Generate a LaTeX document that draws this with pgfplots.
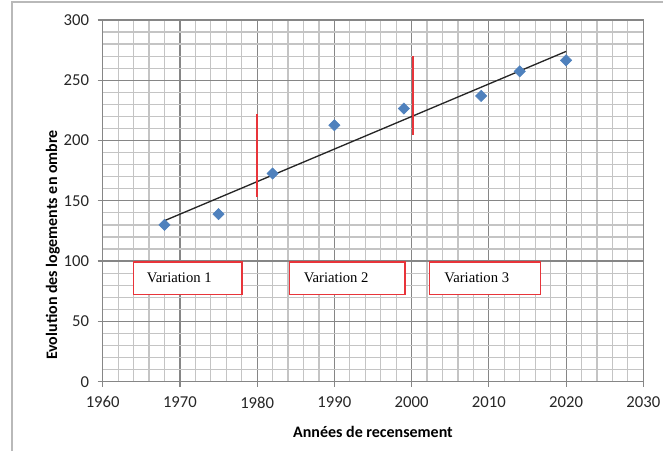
\documentclass[border=0pt]{standalone}
\usepackage{pgfplots}
\pgfplotsset{compat=1.18}
\usepackage{fontspec}
\setmainfont{Carlito}
\newfontfamily\serifbox{Liberation Serif}
\definecolor{ptblue}{HTML}{4F81BD}
\definecolor{minorg}{HTML}{C4C4C4}
\definecolor{majorg}{HTML}{868686}
\definecolor{redline}{HTML}{E8343A}
\begin{document}
\begin{tikzpicture}
\useasboundingbox (0,0) rectangle (497.25pt,338.25pt);
\draw[gray!55, line width=1.2pt] (9pt,0pt) -- (9pt,336.9pt) -- (497.25pt,336.9pt);
\begin{axis}[
  at={(77.0pt,52.0pt)}, anchor=south west,
  scale only axis, width=405.5pt, height=271.3pt,
  xmin=1960, xmax=2030, ymin=0, ymax=300,
  xtick={1960,1970,...,2030}, ytick={0,50,...,300},
  minor x tick num=4, minor y tick num=4,
  grid=both,
  major grid style={majorg, line width=0.9pt},
  minor grid style={minorg, line width=0.9pt},
  axis line style={majorg, line width=0.9pt},
  tick align=outside, major tick length=3.75pt, minor tick length=0pt,
  tick style={majorg, line width=0.9pt},
  xtick pos=bottom, ytick pos=left,
  /pgf/number format/assume math mode=true,
  /pgf/number format/1000 sep={},
  tick label style={font=\fontsize{12.5}{14}\selectfont, text=black!85},
  xticklabel style={yshift=-4pt},
  yticklabel style={xshift=-3pt},
  label style={font=\bfseries\fontsize{12}{14}\selectfont},
  xlabel={Années de recensement},
  ylabel={Evolution des logements en ombre},
  xlabel style={at={(axis description cs:0.5,-0.139)}, anchor=center},
  ylabel style={at={(axis description cs:-0.092,0.378)}, anchor=center, rotate=0},
  clip=false,
]
% trend line
\addplot[black!85, line width=1pt] coordinates {(1968,133.5) (2020,273.9)};
% data
\addplot[only marks, mark=square*, mark size=3pt, mark options={rotate=45, fill=ptblue, draw=ptblue}]
  coordinates {
  (1968,130) (1975,139) (1982,172.6) (1990,212.7) (1999,226.5) (2009,237) (2014,257.4) (2020,266.5)
  };
% red separators
\addplot[redline, line width=1.6pt] coordinates {(1980,153) (1980,222)};
\addplot[redline, line width=1.6pt] coordinates {(2000.2,204.5) (2000.2,270.5)};
% boxes
\draw[redline, line width=1.3pt, fill=white] (axis cs:1964,72.4) rectangle (axis cs:1978,99.4);
\draw[redline, line width=1.3pt, fill=white] (axis cs:1984.2,72.4) rectangle (axis cs:1999.1,99.4);
\draw[redline, line width=1.3pt, fill=white] (axis cs:2002.3,72.4) rectangle (axis cs:2016.7,99.4);
\node[anchor=west, inner sep=0pt, font=\serifbox\fontsize{11}{13}\selectfont] at (axis cs:1965.7,86) {Variation 1};
\node[anchor=west, inner sep=0pt, font=\serifbox\fontsize{11}{13}\selectfont] at (axis cs:1986.0,86) {Variation 2};
\node[anchor=west, inner sep=0pt, font=\serifbox\fontsize{11}{13}\selectfont] at (axis cs:2004.2,86) {Variation 3};
\end{axis}
\end{tikzpicture}
\end{document}
